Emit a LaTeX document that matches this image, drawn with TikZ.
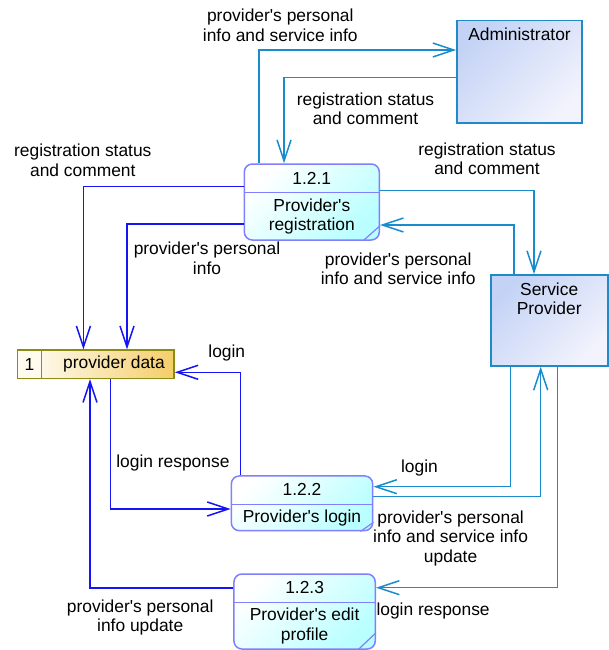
\documentclass[tikz,border=0pt]{standalone}
\usepackage{xcolor}
\usepackage{fontspec}
\usepackage{tikz}
\usetikzlibrary{positioning, arrows.meta, calc}

\newfontfamily\diafont{Liberation Sans}

\definecolor{procline}{RGB}{128,128,255}
\definecolor{procfill}{RGB}{185,255,255}
\definecolor{extline}{RGB}{30,138,200}
\definecolor{extfill}{RGB}{196,211,245}
\definecolor{extfilltwo}{RGB}{242,243,253}
\definecolor{storeline}{RGB}{140,140,20}
\definecolor{storegold}{RGB}{245,206,105}
\definecolor{storeid}{RGB}{255,251,238}
\definecolor{blueflow}{RGB}{20,20,245}
\definecolor{tealflow}{RGB}{25,140,205}

\begin{document}
\begin{tikzpicture}[
    x=1pt, y=-1pt,
    every node/.style={font=\diafont\fontsize{17.4}{19.5}\selectfont},
    proc/.style={rectangle, rounded corners=8pt, draw=procline, line width=1.5pt, top color=white, bottom color=procfill, shading angle=45},
    proc_num/.style={inner sep=0pt, minimum height=29pt},
    proc_name/.style={inner sep=0pt, align=center},
    proc_line/.style={draw=procline, line width=1.2pt},
    ext_box/.style={rectangle, draw=extline, line width=1.6pt, top color=extfill, bottom color=extfilltwo, shading angle=45},
    ext_text/.style={align=center, inner sep=3pt},
    store_box/.style={rectangle, draw=storeline, line width=1.5pt, left color=white, right color=storegold, minimum width=156.7pt, minimum height=28.3pt},
    store_id/.style={rectangle, draw=storeline, line width=1.5pt, fill=storeid, minimum width=24pt, minimum height=28.3pt, inner sep=0pt},
    lbl/.style={align=center, inner sep=0pt},
    store_flow/.style={draw=blueflow, line width=1.5pt, -{Straight Barb[length=21pt, width=14pt]}},
    ext_flow/.style={draw=tealflow, line width=1.5pt, -{Straight Barb[length=21pt, width=14pt]}}
]

\useasboundingbox (0,0) rectangle (608,650);

% External entities
\node[ext_box, minimum width=125pt, minimum height=102.6pt] (admin) at (519.5,72) {};
\node[ext_text, below=5pt of admin.north] (admin_t) {Administrator};
\node[ext_box, minimum width=117pt, minimum height=91pt] (sp) at (549.2,320.5) {};
\node[ext_text, below=5pt of sp.north] (sp_t) {Service\\Provider};

% Data store
\node[store_box] (store) at (95.7,364.2) {};
\node[store_id, right=0pt of store.west] (store_id) {1};
\node[lbl] (store_t) at (114,364) {provider data};

% Processes
\node[proc, minimum width=135pt, minimum height=76pt] (p121) at (311.8,202) {};
\node[proc_num, below=0pt of p121.north] (p121_num) {1.2.1};
\node[proc_name] (p121_t) at ($(p121_num.south)!0.5!(p121.south)$) {Provider's\\registration};
\draw[proc_line] (p121.west |- p121_num.south) -- (p121.east |- p121_num.south);
\draw[proc_line] ([xshift=-17pt]p121.south east) -- ([yshift=15pt]p121.south east);

\node[proc, minimum width=141.4pt, minimum height=54.7pt] (p122) at (302,503.3) {};
\node[proc_num, below=0pt of p122.north] (p122_num) {1.2.2};
\node[proc_name] (p122_t) at ($(p122_num.south)!0.5!(p122.south)$) {Provider's login};
\draw[proc_line] (p122.west |- p122_num.south) -- (p122.east |- p122_num.south);
\draw[proc_line] ([xshift=-13pt]p122.south east) -- ([yshift=9pt]p122.south east);

\node[proc, minimum width=141.3pt, minimum height=75pt] (p123) at (304.6,611.5) {};
\node[proc_num, below=0pt of p123.north] (p123_num) {1.2.3};
\node[proc_name] (p123_t) at ($(p123_num.south)!0.5!(p123.south)$) {Provider's edit\\profile};
\draw[proc_line] (p123.west |- p123_num.south) -- (p123.east |- p123_num.south);
\draw[proc_line] ([xshift=-18pt]p123.south east) -- ([yshift=17pt]p123.south east);

% Flows between registration and administrator
\draw[ext_flow] (p121.north -| 259,0) |- (admin.west |- 0,50);
\draw[ext_flow] (admin.west |- 0,77.3) -| (p121.north -| 284,0);

% Flows from registration to the data store
\draw[store_flow] (p121.west |- 0,186.7) -| (store.north -| 83.4,0);
\draw[store_flow] (p121.west |- 0,224) -| (store.north -| 127,0);

% Flows between registration and service provider
\draw[ext_flow] (p121.east |- 0,190.5) -| (sp.north -| 534,0);
\draw[ext_flow] (sp.north -| 514,0) |- (p121.east |- 0,225);

% Login flows
\draw[store_flow] (p122.north -| 240.5,0) |- (store.east |- 0,372.3);
\draw[store_flow] (store.south -| 110.5,0) |- (p122.west |- 0,509);
\draw[ext_flow] (sp.south -| 510.7,0) |- (p122.east |- 0,486.7);
\draw[ext_flow] (p122.east |- 0,496.7) -| (sp.south -| 540.7,0);

% Edit profile flows
\draw[ext_flow] (sp.south -| 557.3,0) |- (p123.east |- 0,587.7);
\draw[store_flow] (p123.west |- 0,588) -| (store.south -| 90,0);

% Flow labels
\node[lbl] (l_top) at (280.3,25.3) {provider's personal\\info and service info};
\node[lbl] (l_adm) at (365.5,109) {registration status\\and comment};
\node[lbl] (l_left) at (82.8,160.3) {registration status\\and comment};
\node[lbl] (l_right) at (487,158.7) {registration status\\and comment};
\node[lbl] (l_pinfo) at (207,258.3) {provider's personal\\info};
\node[lbl] (l_sp) at (398.2,268.7) {provider's personal\\info and service info};
\node[lbl] (l_login) at (226.8,352.7) {login};
\node[lbl] (l_resp) at (172.9,462.7) {login response};
\node[lbl] (l_login2) at (419.5,467.7) {login};
\node[lbl] (l_upd) at (450.6,538.3) {provider's personal\\info and service info\\update};
\node[lbl] (l_resp2) at (433.1,610.7) {login response};
\node[lbl] (l_upd2) at (140.2,617.5) {provider's personal\\info update};

\end{tikzpicture}
\end{document}
